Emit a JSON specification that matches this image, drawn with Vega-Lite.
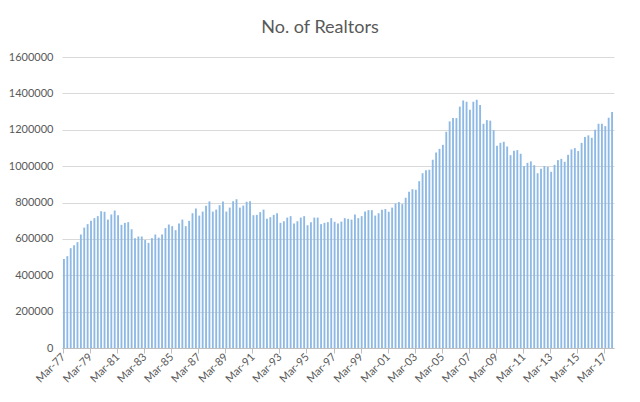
{
  "$schema": "https://vega.github.io/schema/vega-lite/v6.json",
  "width": 552,
  "height": 291,
  "autosize": {"type": "none"},
  "padding": {"left": 62, "top": 57, "right": 26, "bottom": 54},
  "background": "white",
  "title": {
    "text": "No. of Realtors",
    "font": "Lato",
    "fontSize": 18,
    "fontWeight": "normal",
    "color": "#595959",
    "anchor": "middle",
    "dx": -18,
    "offset": 14
  },
  "data": {
    "values": [
      {"q": "Mar-77", "v": 490000}, {"q": "Jun-77", "v": 505000}, {"q": "Sep-77", "v": 549000}, {"q": "Dec-77", "v": 565000},
      {"q": "Mar-78", "v": 582000}, {"q": "Jun-78", "v": 624000}, {"q": "Sep-78", "v": 662000}, {"q": "Dec-78", "v": 681000},
      {"q": "Mar-79", "v": 699000}, {"q": "Jun-79", "v": 714000}, {"q": "Sep-79", "v": 725000}, {"q": "Dec-79", "v": 752000},
      {"q": "Mar-80", "v": 749000}, {"q": "Jun-80", "v": 706000}, {"q": "Sep-80", "v": 734000}, {"q": "Dec-80", "v": 756000},
      {"q": "Mar-81", "v": 730000}, {"q": "Jun-81", "v": 677000}, {"q": "Sep-81", "v": 688000}, {"q": "Dec-81", "v": 692000},
      {"q": "Mar-82", "v": 653000}, {"q": "Jun-82", "v": 604000}, {"q": "Sep-82", "v": 613000}, {"q": "Dec-82", "v": 613000},
      {"q": "Mar-83", "v": 594000}, {"q": "Jun-83", "v": 578000}, {"q": "Sep-83", "v": 604000}, {"q": "Dec-83", "v": 624000},
      {"q": "Mar-84", "v": 607000}, {"q": "Jun-84", "v": 624000}, {"q": "Sep-84", "v": 659000}, {"q": "Dec-84", "v": 679000},
      {"q": "Mar-85", "v": 670000}, {"q": "Jun-85", "v": 648000}, {"q": "Sep-85", "v": 684000}, {"q": "Dec-85", "v": 706000},
      {"q": "Mar-86", "v": 670000}, {"q": "Jun-86", "v": 699000}, {"q": "Sep-86", "v": 741000}, {"q": "Dec-86", "v": 767000},
      {"q": "Mar-87", "v": 728000}, {"q": "Jun-87", "v": 750000}, {"q": "Sep-87", "v": 782000}, {"q": "Dec-87", "v": 806000},
      {"q": "Mar-88", "v": 750000}, {"q": "Jun-88", "v": 761000}, {"q": "Sep-88", "v": 785000}, {"q": "Dec-88", "v": 806000},
      {"q": "Mar-89", "v": 750000}, {"q": "Jun-89", "v": 772000}, {"q": "Sep-89", "v": 807000}, {"q": "Dec-89", "v": 818000},
      {"q": "Mar-90", "v": 772000}, {"q": "Jun-90", "v": 783000}, {"q": "Sep-90", "v": 804000}, {"q": "Dec-90", "v": 807000},
      {"q": "Mar-91", "v": 730000}, {"q": "Jun-91", "v": 732000}, {"q": "Sep-91", "v": 747000}, {"q": "Dec-91", "v": 761000},
      {"q": "Mar-92", "v": 710000}, {"q": "Jun-92", "v": 719000}, {"q": "Sep-92", "v": 732000}, {"q": "Dec-92", "v": 741000},
      {"q": "Mar-93", "v": 688000}, {"q": "Jun-93", "v": 697000}, {"q": "Sep-93", "v": 717000}, {"q": "Dec-93", "v": 725000},
      {"q": "Mar-94", "v": 684000}, {"q": "Jun-94", "v": 697000}, {"q": "Sep-94", "v": 717000}, {"q": "Dec-94", "v": 725000},
      {"q": "Mar-95", "v": 675000}, {"q": "Jun-95", "v": 692000}, {"q": "Sep-95", "v": 717000}, {"q": "Dec-95", "v": 717000},
      {"q": "Mar-96", "v": 681000}, {"q": "Jun-96", "v": 688000}, {"q": "Sep-96", "v": 692000}, {"q": "Dec-96", "v": 714000},
      {"q": "Mar-97", "v": 694000}, {"q": "Jun-97", "v": 684000}, {"q": "Sep-97", "v": 695000}, {"q": "Dec-97", "v": 714000},
      {"q": "Mar-98", "v": 710000}, {"q": "Jun-98", "v": 706000}, {"q": "Sep-98", "v": 734000}, {"q": "Dec-98", "v": 714000},
      {"q": "Mar-99", "v": 725000}, {"q": "Jun-99", "v": 750000}, {"q": "Sep-99", "v": 758000}, {"q": "Dec-99", "v": 758000},
      {"q": "Mar-00", "v": 728000}, {"q": "Jun-00", "v": 741000}, {"q": "Sep-00", "v": 760000}, {"q": "Dec-00", "v": 764000},
      {"q": "Mar-01", "v": 749000}, {"q": "Jun-01", "v": 772000}, {"q": "Sep-01", "v": 794000}, {"q": "Dec-01", "v": 802000},
      {"q": "Mar-02", "v": 791000}, {"q": "Jun-02", "v": 826000}, {"q": "Sep-02", "v": 859000}, {"q": "Dec-02", "v": 873000},
      {"q": "Mar-03", "v": 870000}, {"q": "Jun-03", "v": 917000}, {"q": "Sep-03", "v": 961000}, {"q": "Dec-03", "v": 977000},
      {"q": "Mar-04", "v": 980000}, {"q": "Jun-04", "v": 1035000}, {"q": "Sep-04", "v": 1075000}, {"q": "Dec-04", "v": 1095000},
      {"q": "Mar-05", "v": 1117000}, {"q": "Jun-05", "v": 1189000}, {"q": "Sep-05", "v": 1246000}, {"q": "Dec-05", "v": 1264000},
      {"q": "Mar-06", "v": 1264000}, {"q": "Jun-06", "v": 1327000}, {"q": "Sep-06", "v": 1361000}, {"q": "Dec-06", "v": 1354000},
      {"q": "Mar-07", "v": 1310000}, {"q": "Jun-07", "v": 1354000}, {"q": "Sep-07", "v": 1365000}, {"q": "Dec-07", "v": 1336000},
      {"q": "Mar-08", "v": 1233000}, {"q": "Jun-08", "v": 1253000}, {"q": "Sep-08", "v": 1250000}, {"q": "Dec-08", "v": 1198000},
      {"q": "Mar-09", "v": 1112000}, {"q": "Jun-09", "v": 1128000}, {"q": "Sep-09", "v": 1134000}, {"q": "Dec-09", "v": 1108000},
      {"q": "Mar-10", "v": 1060000}, {"q": "Jun-10", "v": 1084000}, {"q": "Sep-10", "v": 1088000}, {"q": "Dec-10", "v": 1068000},
      {"q": "Mar-11", "v": 1000000}, {"q": "Jun-11", "v": 1018000}, {"q": "Sep-11", "v": 1026000}, {"q": "Dec-11", "v": 1005000},
      {"q": "Mar-12", "v": 961000}, {"q": "Jun-12", "v": 985000}, {"q": "Sep-12", "v": 1000000}, {"q": "Dec-12", "v": 996000},
      {"q": "Mar-13", "v": 969000}, {"q": "Jun-13", "v": 1007000}, {"q": "Sep-13", "v": 1033000}, {"q": "Dec-13", "v": 1040000},
      {"q": "Mar-14", "v": 1024000}, {"q": "Jun-14", "v": 1062000}, {"q": "Sep-14", "v": 1092000}, {"q": "Dec-14", "v": 1099000},
      {"q": "Mar-15", "v": 1083000}, {"q": "Jun-15", "v": 1128000}, {"q": "Sep-15", "v": 1160000}, {"q": "Dec-15", "v": 1169000},
      {"q": "Mar-16", "v": 1156000}, {"q": "Jun-16", "v": 1200000}, {"q": "Sep-16", "v": 1233000}, {"q": "Dec-16", "v": 1233000},
      {"q": "Mar-17", "v": 1220000}, {"q": "Jun-17", "v": 1266000}, {"q": "Sep-17", "v": 1297000}
    ]
  },
  "mark": {"type": "bar", "color": "#8DB9E4"},
  "encoding": {
    "x": {
      "field": "q",
      "type": "nominal",
      "sort": null,
      "scale": {"paddingInner": 0.45, "paddingOuter": 0.3},
      "axis": {
        "title": null,
        "values": ["Mar-77", "Mar-79", "Mar-81", "Mar-83", "Mar-85", "Mar-87", "Mar-89", "Mar-91", "Mar-93", "Mar-95", "Mar-97", "Mar-99", "Mar-01", "Mar-03", "Mar-05", "Mar-07", "Mar-09", "Mar-11", "Mar-13", "Mar-15", "Mar-17"],
        "bandPosition": 0.2,
        "labelAngle": -45,
        "labelAlign": "right",
        "labelBaseline": "middle",
        "labelFont": "Lato",
        "labelFontSize": 11,
        "labelColor": "#595959",
        "labelPadding": 2,
        "domainColor": "#BFBFBF",
        "tickColor": "#BFBFBF",
        "tickSize": 5,
        "grid": false
      }
    },
    "y": {
      "field": "v",
      "type": "quantitative",
      "scale": {"domain": [0, 1600000], "nice": false},
      "axis": {
        "title": null,
        "values": [0, 200000, 400000, 600000, 800000, 1000000, 1200000, 1400000, 1600000],
        "format": "d",
        "labelFont": "Lato",
        "labelFontSize": 11,
        "labelColor": "#595959",
        "labelPadding": 9,
        "domain": false,
        "ticks": false,
        "gridColor": "#D9D9D9",
        "gridWidth": 1
      }
    }
  },
  "config": {
    "view": {"stroke": null}
  }
}
